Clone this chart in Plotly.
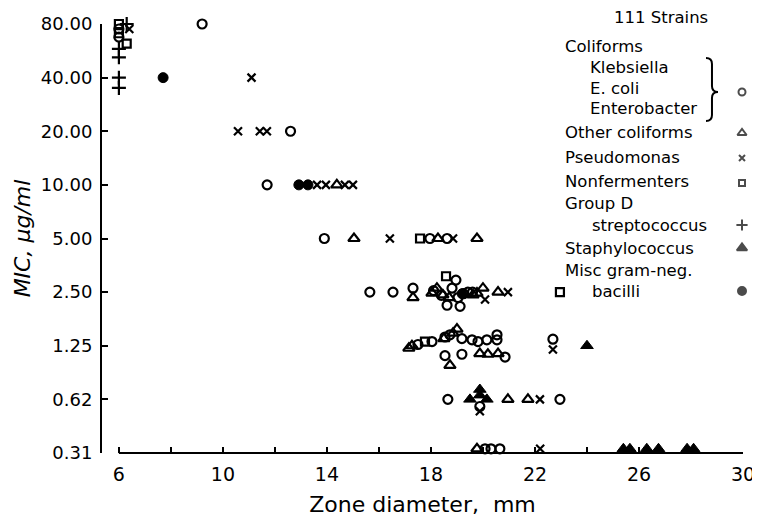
import plotly.graph_objects as go

# ---------------- data (zone diameter mm, MIC ug/ml) ----------------
coliforms_x = [6.0, 6.0, 9.2, 12.6, 11.7, 13.9, 17.96, 18.62, 15.65, 16.54, 17.31, 18.1, 18.96,
               18.62, 19.12, 18.81, 19.04, 19.42, 18.4, 19.25, 19.6, 17.5, 18.04, 18.54, 18.73,
               18.54, 19.19, 19.19, 19.58, 19.81, 20.15, 20.54, 20.54, 20.85, 22.69, 18.65,
               19.88, 22.96, 20.08, 20.31, 20.65]
coliforms_y = [75, 67.5, 80, 20, 10, 5, 5, 5, 2.5, 2.5, 2.63, 2.55, 2.92,
               2.11, 2.08, 2.63, 2.33, 2.5, 2.4, 2.45, 2.5, 1.27, 1.32, 1.4, 1.44,
               1.1, 1.37, 1.12, 1.35, 1.32, 1.35, 1.35, 1.44, 1.08, 1.36, 0.625,
               0.57, 0.625, 0.33, 0.33, 0.33]

other_col_x = [14.38, 15.04, 18.27, 19.77, 17.31, 18.04, 18.23, 18.46, 19.62, 19.77, 20.0,
               20.58, 18.7, 17.27, 17.15, 19.0, 18.85, 18.73, 19.88, 20.19, 20.58, 18.5,
               20.96, 21.73, 19.77]
other_col_y = [10, 5, 5, 5, 2.33, 2.47, 2.63, 2.41, 2.41, 2.47, 2.63,
               2.5, 2.33, 1.25, 1.21, 1.55, 1.47, 0.97, 1.13, 1.12, 1.13, 1.37,
               0.625, 0.625, 0.33]

pseudo_x = [6.4, 11.1, 10.58, 11.42, 11.69, 13.62, 13.96, 14.69, 15.0, 16.42, 18.85,
            20.08, 20.96, 22.69, 19.88, 22.19, 22.2]
pseudo_y = [75, 40, 20, 20, 20, 10, 10, 10, 10, 5, 5,
            2.27, 2.5, 1.19, 0.536, 0.625, 0.33]

nonferm_x = [6.0, 6.0, 6.3, 17.58, 18.58, 22.96, 17.77]
nonferm_y = [80, 71, 62, 5, 3.07, 2.5, 1.32]

groupd_x = [6.3, 6.0, 6.0, 6.0, 6.0]
groupd_y = [80, 58, 52, 40, 35]

staph_x = [19.88, 19.5, 20.15, 19.88, 24.0, 25.4, 25.65, 26.3, 26.75, 27.85, 28.1]
staph_y = [0.71, 0.625, 0.625, 0.66, 1.25, 0.33, 0.33, 0.33, 0.33, 0.33, 0.33]

misc_x = [7.7, 12.92, 13.27, 19.2]
misc_y = [40, 10, 10, 2.45]

y_tickvals = [0.3125, 0.625, 1.25, 2.5, 5, 10, 20, 40, 80]
y_ticktext = ["0.31", "0.62", "1.25", "2.50", "5.00", "10.00", "20.00", "40.00", "80.00"]
x_tickvals = [6, 8, 10, 12, 14, 16, 18, 20, 22, 24, 26, 28, 30]
x_ticktext = ["6", "", "10", "", "14", "", "18", "", "22", "", "26", "", "30"]

# ---------------- figure ----------------
# the page body has an 8px margin, so the figure is drawn 8px in from the window edge
FONT = "DejaVu Sans"
OFF = 8
W, H = 752, 517
L, T = 102 - OFF, 24 - OFF
R = W - (743 - OFF)
B = H - (453 - OFF)
PW, PH = W - L - R, H - T - B


def px(xp):
    return (xp - OFF - L) / PW


def py(yp):
    return (H - B - (yp - OFF)) / PH


fig = go.Figure()

series = [
    (coliforms_x, coliforms_y, "circle-open", 9, 2.2),
    (other_col_x, other_col_y, "triangle-up-open", 10, 2.2),
    (pseudo_x, pseudo_y, "x-thin-open", 8, 2.2),
    (nonferm_x, nonferm_y, "square-open", 8, 2.2),
    (groupd_x, groupd_y, "cross-thin-open", 10, 2.2),
    (staph_x, staph_y, "triangle-up", 11, 1),
    (misc_x, misc_y, "circle", 10, 1),
]
for xs, ys, sym, size, lw in series:
    fig.add_trace(go.Scatter(
        x=xs, y=ys, mode="markers", cliponaxis=False, showlegend=False,
        marker=dict(symbol=sym, size=size, color="black",
                    line=dict(color="black", width=lw)),
    ))

# legend key symbols, on an invisible overlay axis spanning the plot area (0..1)
key_rows = [92, 133, 158, 183, 225, 248, 291]
fig.add_trace(go.Scatter(
    x=[px(742)] * len(key_rows), y=[py(r) for r in key_rows],
    xaxis="x2", yaxis="y2", mode="markers", cliponaxis=False, showlegend=False,
    hoverinfo="skip",
    marker=dict(symbol=[s[2] for s in series], size=[7, 8, 6, 6, 8, 9, 8],
                color="black", line=dict(color="black", width=2)),
))

fig.update_layout(
    width=W, height=H, margin=dict(l=L, r=R, t=T, b=B),
    paper_bgcolor="white", plot_bgcolor="white",
    font=dict(family=FONT, color="black"),
    showlegend=False,
    xaxis=dict(
        range=[5.35, 30.0], tickvals=x_tickvals, ticktext=x_ticktext,
        ticks="inside", ticklen=6, tickwidth=2, tickcolor="black",
        showline=False, showgrid=False, zeroline=False, automargin=False,
        tickfont=dict(size=19, family=FONT), ticklabelstandoff=8,
        title=dict(text="Zone diameter,  mm", font=dict(size=22, family=FONT), standoff=12),
    ),
    yaxis=dict(
        type="log", range=[-0.50515, 1.90309],
        tickvals=y_tickvals, ticktext=y_ticktext,
        ticks="inside", ticklen=6, tickwidth=2, tickcolor="black",
        showline=True, linecolor="black", linewidth=2, mirror=False,
        showgrid=False, zeroline=False, automargin=False,
        tickfont=dict(size=18, family=FONT), ticklabelstandoff=4,
        title=dict(text="<i>MIC, μg/ml</i>", font=dict(size=22, family=FONT), standoff=4),
    ),
    xaxis2=dict(overlaying="x", range=[0, 1], visible=False, fixedrange=True),
    yaxis2=dict(overlaying="y", range=[0, 1], visible=False, fixedrange=True),
)

# x axis line from 6 to 30
fig.add_shape(type="line", xref="x", yref="paper", x0=6, x1=30, y0=0, y1=0,
              line=dict(color="black", width=2))

# ---------------- legend text ----------------
legend_lines = [
    ("111 Strains", 612, 17),
    ("Coliforms", 563, 47),
    ("Klebsiella", 588, 67),
    ("E. coli", 588, 88),
    ("Enterobacter", 588, 109),
    ("Other coliforms", 563, 133),
    ("Pseudomonas", 563, 157),
    ("Nonfermenters", 563, 181),
    ("Group D", 563, 203),
    ("streptococcus", 590, 225),
    ("Staphylococcus", 563, 248),
    ("Misc gram-neg.", 563, 270),
    ("bacilli", 590, 291),
]
for txt, xp, yp in legend_lines:
    fig.add_annotation(text=txt, xref="paper", yref="paper", x=px(xp), y=py(yp),
                       xanchor="left", yanchor="middle", showarrow=False,
                       font=dict(size=16.5, family=FONT, color="black"))

# curly brace
bx, top, mid, bot = 712, 58, 92, 121
pts = lambda a, b: f"{px(a):.4f},{py(b):.4f}"
path = (f"M {pts(bx-6, top)} Q {pts(bx, top)} {pts(bx, top+6)} "
        f"L {pts(bx, mid-6)} Q {pts(bx, mid)} {pts(bx+6, mid)} "
        f"Q {pts(bx, mid)} {pts(bx, mid+6)} "
        f"L {pts(bx, bot-6)} Q {pts(bx, bot)} {pts(bx-6, bot)}")
fig.add_shape(type="path", xref="paper", yref="paper", path=path,
              line=dict(color="black", width=2))

fig.write_html("out.html")
